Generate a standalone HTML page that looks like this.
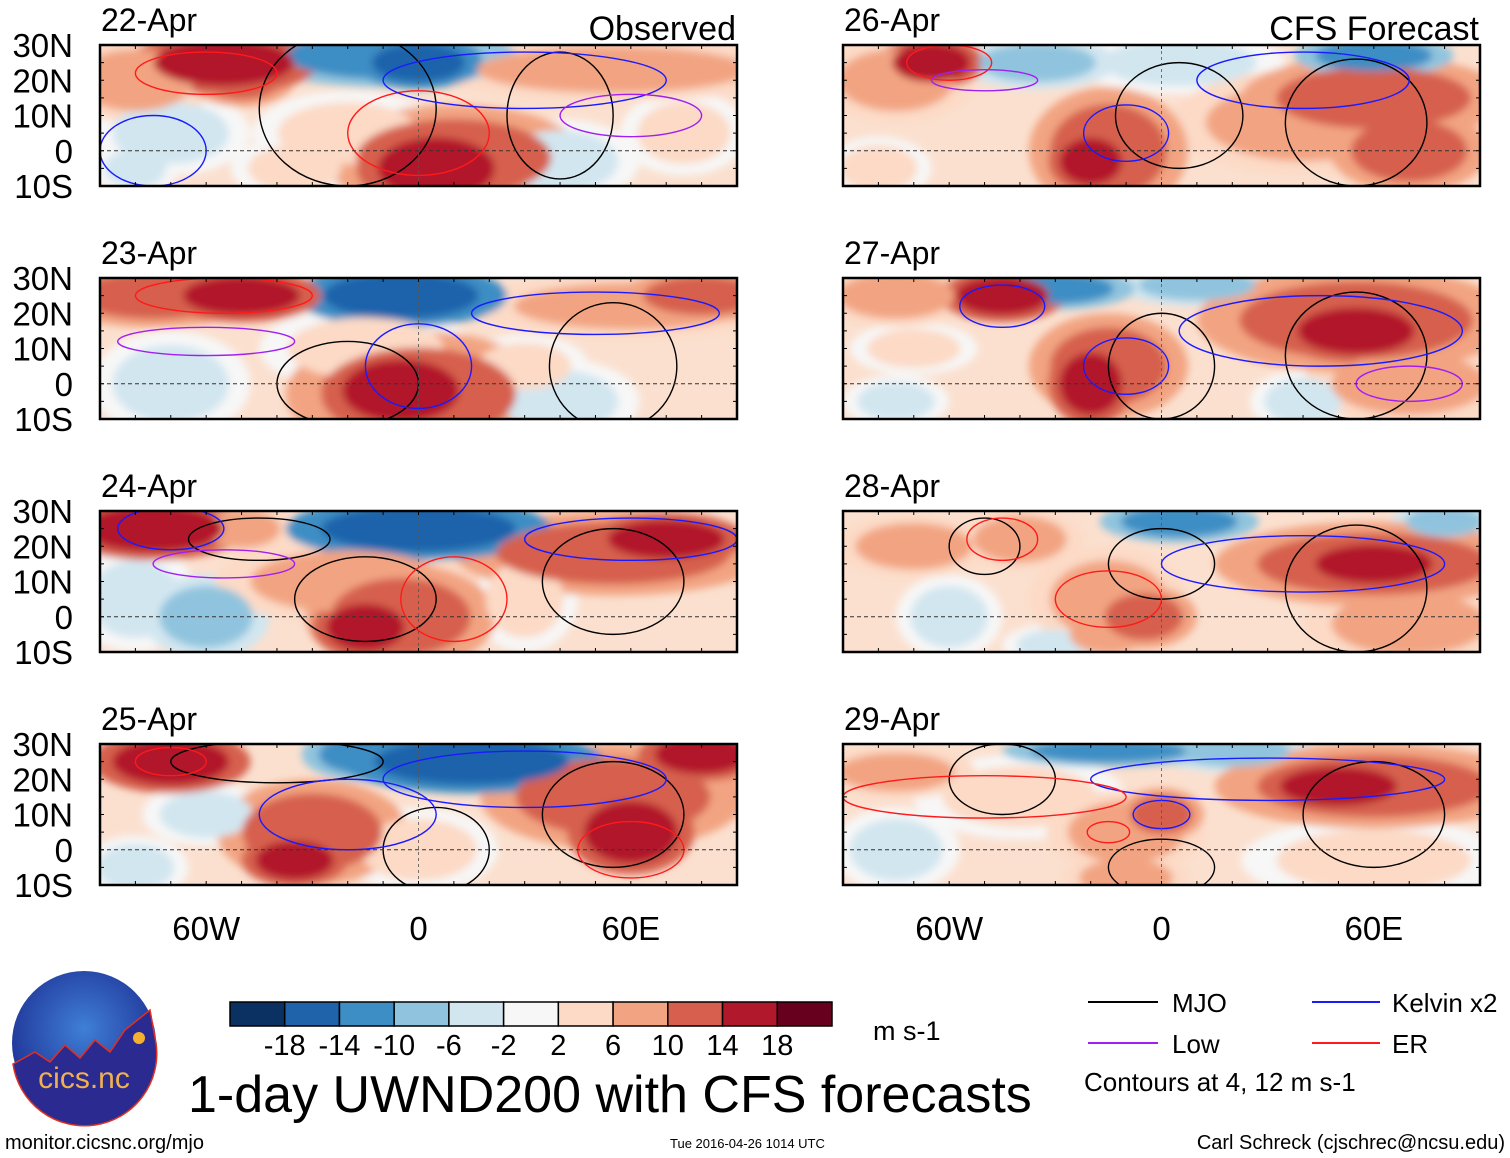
<!DOCTYPE html>
<html><head><meta charset="utf-8"><style>
html,body{margin:0;padding:0;background:#fff;}
svg{display:block;font-family:"Liberation Sans",sans-serif;}
</style></head><body>
<svg id="s" width="1510" height="1158" viewBox="0 0 1510 1158" xmlns="http://www.w3.org/2000/svg">
<defs>
<filter id="blur" x="-20%" y="-20%" width="140%" height="140%"><feGaussianBlur stdDeviation="4"/></filter>
<radialGradient id="logoG" cx="50%" cy="40%" r="60%"><stop offset="0" stop-color="#3f7fd6"/><stop offset="1" stop-color="#1d2f93"/></radialGradient>
</defs>
<g id="panels"></g>
<g id="legend"></g>
</svg>
<script>
// ---- data ----
const panelTitles = ["22-Apr","23-Apr","24-Apr","25-Apr","26-Apr","27-Apr","28-Apr","29-Apr"];
const latTicks = ["30N","20N","10N","0","10S"];
const latVals = [30,20,10,0,-10];
const lonTicks = ["60W","0","60E"];
const lonVals = [-60,0,60];
const levels = [-18,-14,-10,-6,-2,2,6,10,14,18];
const colors = ["#0a3161","#1f64ab","#3d8ec4","#90c4de","#d2e6f0","#f7f7f7","#fcdac6","#f2a482","#d6604d","#b2182b","#67001f"];
// blobs per panel: [lon, lat, halfWidthDeg, halfHeightDeg, value]
const blobs = [
 [[-80,20,15,8,8],[-55,25,18,6,18],[-50,20,10,5,14],[-10,27,25,6,-12],[0,25,12,5,-16],[-20,5,18,8,6],[10,-2,25,10,12],[5,-5,15,8,18],[-70,5,15,8,-4],[-80,-5,8,5,-4],[55,23,35,6,10],[40,-3,15,8,-5],[75,5,12,8,4],[-35,-5,12,6,6]],
 [[-75,25,20,6,14],[-50,25,15,5,16],[-5,25,20,6,-14],[-15,10,20,8,6],[0,-3,25,12,12],[-5,-2,15,8,18],[60,22,30,6,10],[80,25,15,5,14],[-70,0,15,10,-3],[40,-5,15,8,-4],[30,5,12,6,6]],
 [[-75,25,18,6,16],[-50,25,10,5,8],[0,25,25,6,-14],[-20,10,25,8,8],[-5,0,18,10,14],[-15,-3,10,6,18],[55,18,30,8,12],[70,22,15,5,18],[-80,5,12,10,-5],[-60,0,12,8,-6],[30,5,10,10,6]],
 [[-70,25,15,6,18],[-60,10,12,6,-3],[-30,5,18,10,12],[-35,-3,10,5,18],[15,25,25,6,-14],[-15,27,12,5,-10],[55,15,25,10,12],[60,5,12,8,16],[80,27,12,5,16],[0,0,15,8,6],[-80,-5,10,6,-3]],
 [[-65,25,10,5,18],[-75,20,15,8,8],[-35,25,15,5,-6],[-15,0,15,12,14],[-20,-3,8,6,18],[5,25,20,6,-4],[40,8,25,10,8],[60,15,25,8,12],[70,0,15,8,12],[60,27,15,4,-12],[-80,-5,10,6,4]],
 [[-75,25,15,6,10],[-45,25,12,5,16],[-70,10,12,5,6],[-15,5,15,10,12],[-20,0,8,8,18],[-30,27,15,4,-10],[10,28,15,4,-8],[55,18,30,10,12],[55,15,15,6,18],[70,0,20,8,10],[-75,-5,10,5,-3],[40,-5,10,6,-3]],
 [[-70,20,15,6,8],[-40,22,12,6,10],[-15,5,15,10,8],[-5,0,10,6,14],[-15,-5,10,5,10],[5,27,15,4,-12],[60,15,30,8,12],[60,15,15,5,18],[70,-2,20,8,8],[-60,0,10,8,-3],[-30,-8,10,4,-3],[80,27,10,4,-8]],
 [[-75,22,15,5,10],[-40,15,20,8,6],[-10,5,15,8,8],[0,10,8,5,14],[-10,-8,12,5,8],[-15,28,20,3,-10],[20,28,15,4,-6],[60,18,30,8,12],[50,18,15,5,16],[60,-3,25,8,6],[-75,0,12,8,-3]]
];
// contour ellipses per panel: [lon, lat, halfWidth, halfHeight, type]  type:0 MJO,1 Kelvin,2 Low,3 ER
const contours = [
 [[-20,12,25,22,0],[40,10,15,18,0],[-60,22,20,6,3],[0,5,20,12,3],[30,20,40,8,1],[-75,0,15,10,1],[60,10,20,6,2]],
 [[-20,0,20,12,0],[55,5,18,18,0],[-55,25,25,5,3],[0,5,15,12,1],[50,20,35,6,1],[-60,12,25,4,2]],
 [[-45,22,20,6,0],[-15,5,20,12,0],[55,10,20,15,0],[-70,25,15,6,1],[10,5,15,12,3],[60,22,30,6,1],[-55,15,20,4,2]],
 [[-40,25,30,6,0],[5,0,15,12,0],[55,10,20,15,0],[-70,25,10,4,3],[-20,10,25,10,1],[30,20,40,8,1],[60,0,15,8,3]],
 [[-60,25,12,5,3],[5,10,18,15,0],[55,8,20,18,0],[-10,5,12,8,1],[40,20,30,8,1],[-50,20,15,3,2]],
 [[-45,22,12,6,1],[0,5,15,15,0],[55,8,20,18,0],[-10,5,12,8,1],[45,15,40,10,1],[70,0,15,5,2]],
 [[-50,20,10,8,0],[0,15,15,10,0],[55,8,20,18,0],[-15,5,15,8,3],[40,15,40,8,1],[-45,22,10,6,3]],
 [[-45,20,15,10,0],[0,-5,15,8,0],[60,10,20,15,0],[-15,5,6,3,3],[0,10,8,4,1],[30,20,50,6,1],[-50,15,40,6,3]]
];
const cbLabels = ["-18","-14","-10","-6","-2","2","6","10","14","18"];
// ---- layout ----
const NS="http://www.w3.org/2000/svg";
const rowsY=[45,278,511,744], colsX=[100,843], PW=637, PH=141;
const contourColors=["#000","#1a1aff","#a020f0","#ff1a1a"];
function colorFor(v){let i=0;while(i<levels.length&&v>levels[i])i++;return colors[i];}
function mk(tag,attrs,parent){const e=document.createElementNS(NS,tag);for(const k in attrs)e.setAttribute(k,attrs[k]);parent.appendChild(e);return e;}
const root=document.getElementById('panels');
for(let p=0;p<8;p++){
  const col=p<4?0:1,row=p%4;
  const x0=colsX[col],y0=rowsY[row];
  const xs=lon=>x0+(lon+90)/180*PW;
  const ys=lat=>y0+(30-lat)/40*PH;
  const g=mk('g',{},root);
  
  
  const cp=mk('clipPath',{id:'cp'+p},g);
  mk('rect',{x:x0,y:y0,width:PW,height:PH},cp);
  const inner=mk('g',{'clip-path':'url(#cp'+p+')'},g);
  mk('rect',{x:x0,y:y0,width:PW,height:PH,fill:'#fbe0cf'},inner);
  const bg=mk('g',{filter:'url(#blur)'},inner);
  // halos (one level weaker, larger), then cores
  const sorted=blobs[p].slice().sort((a,b)=>Math.abs(a[4])-Math.abs(b[4]));
  sorted.forEach(b=>{
    const hv=b[4]>0?b[4]-4:b[4]+4;
    const h=mk('ellipse',{cx:xs(b[0]),cy:ys(b[1]),rx:1.5*b[2]/180*PW,ry:1.5*b[3]/40*PH,fill:colorFor(hv)},bg);
    
    
  });
  sorted.forEach(b=>{
    const e=mk('ellipse',{cx:xs(b[0]),cy:ys(b[1]),rx:1.1*b[2]/180*PW,ry:1.1*b[3]/40*PH,fill:colorFor(b[4])},bg);
    
    
  });
  contours[p].forEach(c=>{
    const e=mk('ellipse',{cx:xs(c[0]),cy:ys(c[1]),rx:c[2]/180*PW,ry:c[3]/40*PH,fill:'none',stroke:contourColors[c[4]],'stroke-width':1.4},inner);
    
    
  });
  mk('line',{x1:x0,x2:x0+PW,y1:ys(0),y2:ys(0),stroke:'#333','stroke-dasharray':'4 3','stroke-width':1},inner);
  mk('line',{x1:xs(0),x2:xs(0),y1:y0,y2:y0+PH,stroke:'#555','stroke-dasharray':'3 3','stroke-width':0.8},inner);
  mk('rect',{x:x0,y:y0,width:PW,height:PH,fill:'none',stroke:'#000','stroke-width':2.5},g);
  for(let lo=-90;lo<=90;lo+=10){mk('line',{x1:xs(lo),x2:xs(lo),y1:y0,y2:y0+4,stroke:'#000'},g);mk('line',{x1:xs(lo),x2:xs(lo),y1:y0+PH,y2:y0+PH-4,stroke:'#000'},g);}
  for(let la=-10;la<=30;la+=5){mk('line',{x1:x0,x2:x0+4,y1:ys(la),y2:ys(la),stroke:'#000'},g);mk('line',{x1:x0+PW,x2:x0+PW-4,y1:ys(la),y2:ys(la),stroke:'#000'},g);}
  const t=mk('text',{x:x0+1,y:y0-14,'font-size':32},g);t.textContent=panelTitles[p];
  
  if(col===0){latTicks.forEach((l,i)=>{const tt=mk('text',{x:73,y:ys(latVals[i])+12,'font-size':33,'text-anchor':'end'},g);tt.textContent=l;
    });}
  if(row===0){const o=mk('text',{x:x0+PW-1,y:y0-5,'font-size':34,'text-anchor':'end'},g);o.textContent=col===0?'Observed':'CFS Forecast';
    }
  if(row===3){lonTicks.forEach((l,i)=>{const tt=mk('text',{x:xs(lonVals[i]),y:940,'font-size':33,'text-anchor':'middle'},g);tt.textContent=l;
    });}
}
// colorbar
const L=document.getElementById('legend');
const cbx=230,cbw=602/colors.length;
colors.forEach((c,i)=>{const r=mk('rect',{x:cbx+i*cbw,y:1002,width:cbw,height:24,fill:c,stroke:'#000','stroke-width':1.5},L);
  });
cbLabels.forEach((l,i)=>{const t=mk('text',{x:cbx+(i+1)*cbw,y:1055,'font-size':29,'text-anchor':'middle'},L);t.textContent=l;
  });
L.insertAdjacentHTML('beforeend',`
<text x="873" y="1040" font-size="27">m s-1</text>
<text x="188" y="1112" font-size="52">1-day UWND200 with CFS forecasts</text>
<line x1="1088" x2="1158" y1="1002" y2="1002" stroke="#000" stroke-width="2"/>
<text x="1172" y="1012" font-size="26">MJO</text>
<line x1="1312" x2="1380" y1="1002" y2="1002" stroke="#1a1aff" stroke-width="2"/>
<text x="1392" y="1012" font-size="26">Kelvin x2</text>
<line x1="1088" x2="1158" y1="1043" y2="1043" stroke="#a020f0" stroke-width="2"/>
<text x="1172" y="1053" font-size="26">Low</text>
<line x1="1312" x2="1380" y1="1043" y2="1043" stroke="#ff1a1a" stroke-width="2"/>
<text x="1392" y="1053" font-size="26">ER</text>
<text x="1084" y="1091" font-size="26">Contours at 4, 12 m s-1</text>
<text x="5" y="1149" font-size="20">monitor.cicsnc.org/mjo</text>
<text x="670" y="1148" font-size="13">Tue 2016-04-26 1014 UTC</text>
<text x="1505" y="1149" font-size="20" text-anchor="end">Carl Schreck (cjschrec@ncsu.edu)</text>
<g>
<circle cx="84" cy="1043" r="72" fill="url(#logoG)"/>
<path d="M13,1064 L35,1052 L50,1062 L65,1045 L80,1058 L95,1040 L110,1052 L125,1030 L150,1010 L156,1043 A72,72 0 0 1 13,1064Z" fill="#2a2a90" stroke="#e03020" stroke-width="1.5"/>
<circle cx="139" cy="1038" r="6" fill="#f5b030"/>
<text x="84" y="1088" font-size="30" fill="#f0b050" text-anchor="middle">cics.nc</text>
</g>`);
</script>
</body></html>
